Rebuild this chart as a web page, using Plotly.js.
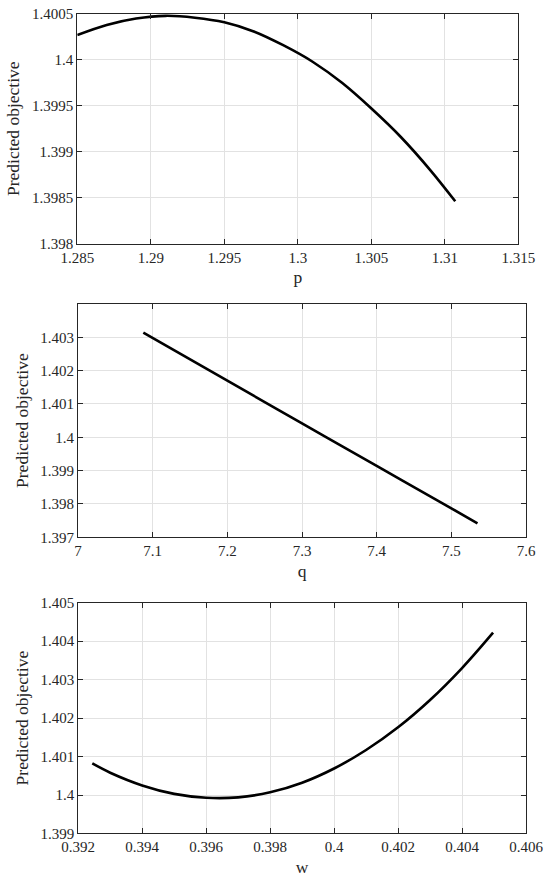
<!DOCTYPE html>
<html>
<head>
<meta charset="utf-8">
<script src="https://cdn.plot.ly/plotly-3.0.1.min.js"></script>
<style>html,body{margin:0;padding:0;background:#fff;}#chart{width:550px;height:882px;}</style>
</head>
<body>
<div id="chart"></div>
<script>
// Panel 1: objective vs p
const pValues = [1.285, 1.287, 1.289, 1.291, 1.293, 1.295, 1.297, 1.299, 1.301, 1.303, 1.305, 1.307, 1.309, 1.3107];
const pObjective = [1.40027, 1.40038, 1.40045, 1.40048, 1.40046, 1.40041, 1.40031, 1.40016, 1.39998, 1.39975, 1.39947, 1.39916, 1.39880, 1.39846];
const pTicks = [1.285, 1.29, 1.295, 1.3, 1.305, 1.31, 1.315];
const pTickText = ["1.285", "1.29", "1.295", "1.3", "1.305", "1.31", "1.315"];
const pObjTicks = [1.398, 1.3985, 1.399, 1.3995, 1.4, 1.4005];
const pObjTickText = ["1.398", "1.3985", "1.399", "1.3995", "1.4", "1.4005"];

// Panel 2: objective vs q
const qValues = [7.0875, 7.2, 7.3, 7.4, 7.5, 7.535];
const qObjective = [1.40314, 1.40170, 1.40042, 1.39914, 1.39787, 1.39742];
const qTicks = [7, 7.1, 7.2, 7.3, 7.4, 7.5, 7.6];
const qTickText = ["7", "7.1", "7.2", "7.3", "7.4", "7.5", "7.6"];
const qObjTicks = [1.397, 1.398, 1.399, 1.4, 1.401, 1.402, 1.403];
const qObjTickText = ["1.397", "1.398", "1.399", "1.4", "1.401", "1.402", "1.403"];

// Panel 3: objective vs w
const wValues = [0.39244, 0.393, 0.394, 0.395, 0.396, 0.397, 0.398, 0.399, 0.400, 0.401, 0.402, 0.403, 0.404, 0.40497];
const wObjective = [1.40082, 1.40058, 1.40025, 1.40003, 1.39993, 1.39994, 1.40007, 1.40032, 1.40069, 1.40117, 1.40176, 1.40247, 1.40330, 1.40422];
const wTicks = [0.392, 0.394, 0.396, 0.398, 0.4, 0.402, 0.404, 0.406];
const wTickText = ["0.392", "0.394", "0.396", "0.398", "0.4", "0.402", "0.404", "0.406"];
const wObjTicks = [1.399, 1.4, 1.401, 1.402, 1.403, 1.404, 1.405];
const wObjTickText = ["1.399", "1.4", "1.401", "1.402", "1.403", "1.404", "1.405"];

const FONT = "Liberation Serif";
const INK = "#262626";

function lineTrace(x, y, xa, ya) {
  return {x: x, y: y, xaxis: xa, yaxis: ya, type: "scatter", mode: "lines",
          line: {color: "#000000", width: 2.6, shape: "spline", smoothing: 1}, showlegend: false, hoverinfo: "x+y"};
}

function axisBase(extra) {
  return Object.assign({
    showline: true, linecolor: INK, linewidth: 1, mirror: "ticks",
    ticks: "inside", ticklen: 5, tickwidth: 1, tickcolor: INK,
    showgrid: true, gridcolor: "#e2e2e2", gridwidth: 1, zeroline: false,
    tickmode: "array", automargin: false,
    tickfont: {family: FONT, size: 15, color: INK}
  }, extra);
}

function xTitle(t) { return {text: t, font: {family: FONT, size: 17.5, color: INK}, standoff: 6}; }
function yTitle() { return {text: "Predicted objective", font: {family: FONT, size: 17.5, color: INK}, standoff: 7}; }

const data = [
  lineTrace(pValues, pObjective, "x", "y"),
  lineTrace(qValues, qObjective, "x2", "y2"),
  lineTrace(wValues, wObjective, "x3", "y3")
];

const layout = {
  width: 550, height: 882,
  margin: {l: 0, r: 0, t: 0, b: 0},
  paper_bgcolor: "#ffffff", plot_bgcolor: "#ffffff",
  font: {family: FONT, color: INK},
  xaxis: axisBase({domain: [0.1405, 0.9427], anchor: "y", range: [1.285, 1.315], tickvals: pTicks, ticktext: pTickText, title: xTitle("p")}),
  yaxis: axisBase({domain: [0.72392, 0.98413], anchor: "x", range: [1.398, 1.4005], tickvals: pObjTicks, ticktext: pObjTickText, title: yTitle()}),
  xaxis2: axisBase({domain: [0.1418, 0.9564], anchor: "y2", range: [7, 7.6], tickvals: qTicks, ticktext: qTickText, title: xTitle("q")}),
  yaxis2: axisBase({domain: [0.39082, 0.65533], anchor: "x2", range: [1.397, 1.404], tickvals: qObjTicks, ticktext: qObjTickText, title: yTitle()}),
  xaxis3: axisBase({domain: [0.1422, 0.9564], anchor: "y3", range: [0.392, 0.406], tickvals: wTicks, ticktext: wTickText, title: xTitle("w")}),
  yaxis3: axisBase({domain: [0.05499, 0.31667], anchor: "x3", range: [1.399, 1.405], tickvals: wObjTicks, ticktext: wObjTickText, title: yTitle()})
};

Plotly.newPlot("chart", data, layout, {displayModeBar: false, staticPlot: true});
</script>
</body>
</html>
